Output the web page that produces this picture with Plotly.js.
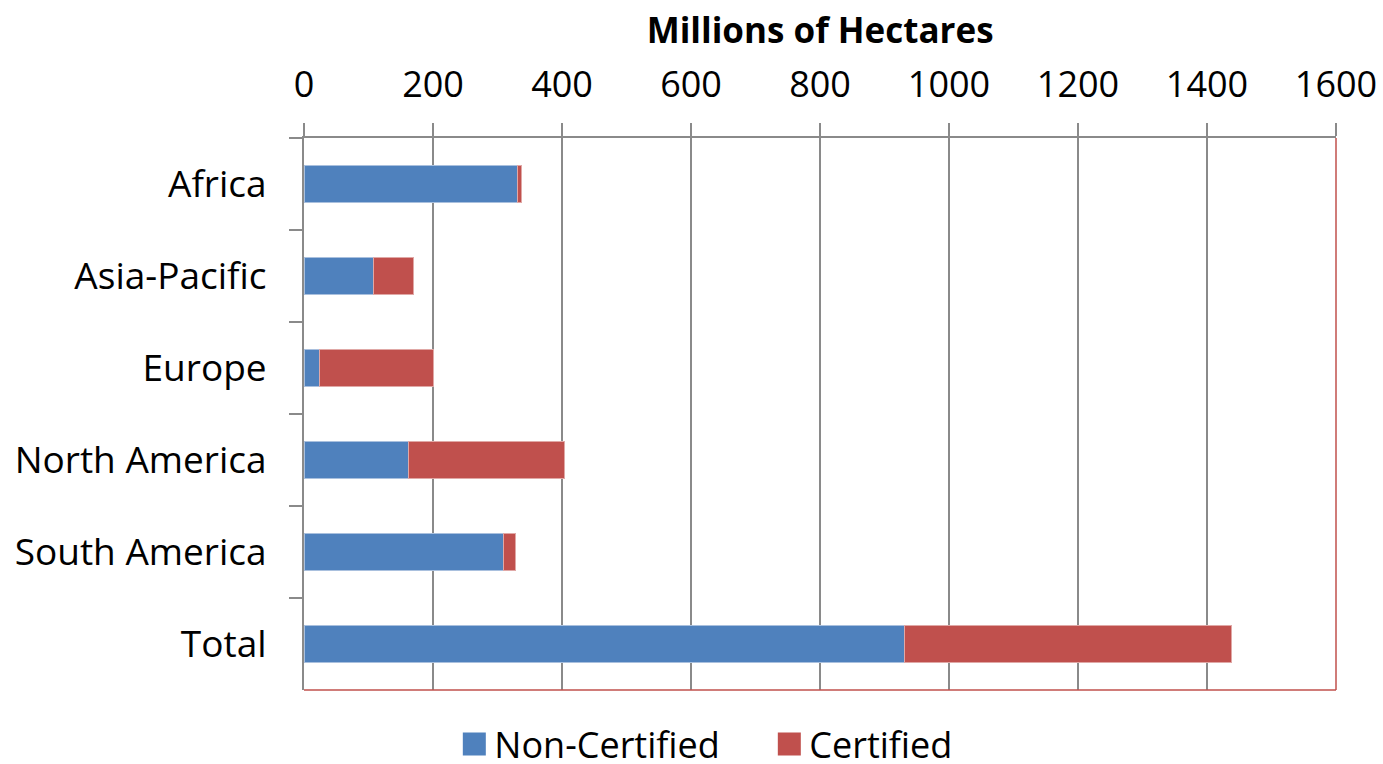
<!DOCTYPE html>
<html>
<head>
<meta charset="utf-8">
<script src="https://cdn.plot.ly/plotly-3.0.1.min.js"></script>
<style>html,body{margin:0;padding:0;background:#fff;}#chart{width:1383px;height:764px;}</style>
</head>
<body>
<div id="chart"></div>
<script>
const regions = ["Africa", "Asia-Pacific", "Europe", "North America", "South America", "Total"];
const nonCertified = [331, 108, 24, 162, 309, 931];
const certified = [6, 62, 177, 242, 19, 507];
const xTicks = [0, 200, 400, 600, 800, 1000, 1200, 1400, 1600];

const FONT = "Open Sans, Liberation Sans, sans-serif";
const traces = [
  {type: "bar", orientation: "h", name: "Non-Certified", y: regions, x: nonCertified,
   marker: {color: "#4F81BD", line: {color: "#a9c0de", width: 1}}},
  {type: "bar", orientation: "h", name: "Certified", y: regions, x: certified,
   marker: {color: "#C0504D", line: {color: "#e0a8a6", width: 1}}}
];
const layout = {
  width: 1383, height: 764,
  margin: {l: 304, r: 47, t: 138, b: 74},
  barmode: "stack", bargap: 0.6,
  paper_bgcolor: "#fff", plot_bgcolor: "#fff",
  font: {family: FONT, size: 36, color: "#000"},
  title: {text: "<b>Millions of Hectares</b>", font: {family: FONT, size: 35, color: "#000"},
          x: 0.593, xref: "container", xanchor: "center", y: 0.96, yref: "container", yanchor: "middle"},
  xaxis: {side: "top", range: [0, 1600], tickvals: xTicks, ticktext: xTicks.map(String),
          showgrid: true, gridcolor: "#8a8a8a", gridwidth: 1.5,
          showline: true, linecolor: "#8a8a8a", linewidth: 2,
          ticks: "outside", ticklen: 13, tickcolor: "#8a8a8a", tickwidth: 1.5,
          ticklabelstandoff: 12,
          zeroline: false, tickfont: {family: FONT, size: 36, color: "#000"}, fixedrange: true},
  yaxis: {type: "category", autorange: "reversed", tickson: "boundaries",
          showline: true, linecolor: "#8a8a8a", linewidth: 2,
          ticks: "outside", ticklen: 13, tickcolor: "#8a8a8a", tickwidth: 1.5,
          ticklabelstandoff: 28,
          showgrid: false, tickfont: {family: FONT, size: 37, color: "#000"}, fixedrange: true},
  shapes: [
    {type: "line", xref: "paper", yref: "paper", x0: 1, x1: 1, y0: 0, y1: 1, line: {color: "#C0504D", width: 1.5}},
    {type: "line", xref: "paper", yref: "paper", x0: 0, x1: 1, y0: 0, y1: 0, line: {color: "#C0504D", width: 1.5}}
  ],
  showlegend: true,
  legend: {orientation: "h", xref: "container", x: 0.3285, xanchor: "left", yref: "container", y: 0.026, yanchor: "middle",
           entrywidth: 270, entrywidthmode: "pixels",
           font: {family: FONT, size: 36, color: "#000"}, traceorder: "normal", itemclick: false}
};
Plotly.newPlot("chart", traces, layout, {displayModeBar: false, staticPlot: true}).then(() => {
  document.querySelectorAll(".legendpoints path").forEach(p => {
    p.setAttribute("d", "M11.5,11.5H-11.5V-11.5H11.5Z");
    p.style.strokeWidth = "0";
  });
});
</script>
</body>
</html>
